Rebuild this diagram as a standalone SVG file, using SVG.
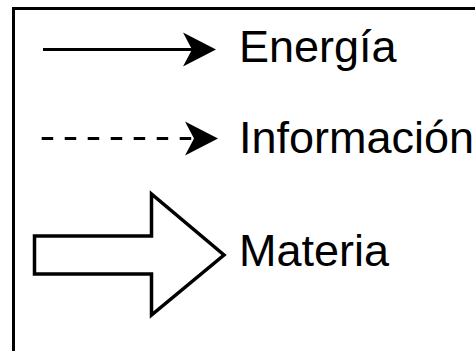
<svg xmlns="http://www.w3.org/2000/svg" xmlns:xlink="http://www.w3.org/1999/xlink" width="475" height="351" viewBox="0 0 475 351">
  <style>
    .frame { fill: none; stroke: #000; stroke-width: 3; }
    .line { fill: none; stroke: #000; stroke-width: 3; }
    .dashed { stroke-dasharray: 11.5 11.5; }
    .head { fill: #000; stroke: none; }
    .block { fill: #fff; stroke: #000; stroke-width: 3.5; stroke-linejoin: miter; }
    .label { font-family: "Liberation Sans", Arial, sans-serif; font-size: 45px; fill: #000; }
  </style>
  <defs>
    <!-- arrowhead with its tip at the origin, pointing right -->
    <path id="arrow-head" class="head" d="M0,0 L-33,-17 L-24,0 L-33,17 Z"/>
  </defs>
  <rect width="475" height="351" fill="#fff"/>

  <!-- legend frame (continues past the right and bottom edges) -->
  <path class="frame" d="M13.5,360 V8.5 H480"/>

  <g id="connectors">
    <line class="line" x1="43" y1="49.5" x2="194" y2="49.5"/>
    <use xlink:href="#arrow-head" x="216" y="49.5"/>
    <line class="line dashed" x1="41.7" y1="138.5" x2="196" y2="138.5"/>
    <use xlink:href="#arrow-head" x="218" y="138.5"/>
  </g>

  <g id="materia-arrow">
    <polygon class="block" points="34.5,236 151.5,236 151.5,194 224,255 151.5,315 151.5,274 34.5,274"/>
  </g>

  <g id="energia">
    <text class="label" x="239" y="62">Energía</text>
  </g>
  <g id="informacion">
    <text class="label" x="239" y="153">Información</text>
  </g>
  <g id="materia">
    <text class="label" x="239" y="266">Materia</text>
  </g>
</svg>
